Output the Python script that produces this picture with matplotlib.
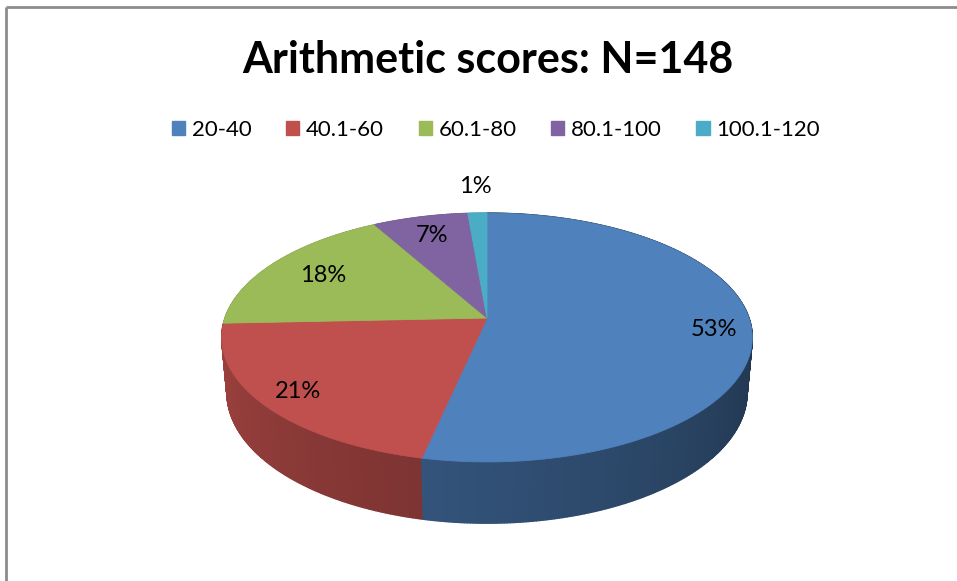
import numpy as np
import matplotlib
matplotlib.use('Agg')
import matplotlib.pyplot as plt
from matplotlib.patches import Polygon, Patch
from matplotlib.colors import to_rgb

plt.rcParams['font.family'] = ['Lato', 'DejaVu Sans']

title = 'Arithmetic scores: N=148'
bands = ['20-40', '40.1-60', '60.1-80', '80.1-100', '100.1-120']
counts = [79, 31, 26, 10, 2]
colors = ['#4F81BD', '#C0504D', '#9BBB59', '#8064A2', '#4BACC6']

W, H = 957, 581
# view: pixel scale, tilt, camera distance, apex on screen, slab thickness
K = 262.0
elev = np.radians(27.6)
D = 5.66
cx, cy = 487.0, 318.0
depth = 0.24
label_r = [0.86, 0.86, 0.76, 0.8, 1.3]   # how far out each % label sits


def proj(x, y, z):
    # x right, y away from viewer, z up -> screen pixels (+ depth toward camera)
    s, c = np.sin(elev), np.cos(elev)
    v = y * s + z * c
    w = -y * c + z * s
    f = D / (D - w)
    return cx + K * x * f, cy - K * v * f, w


fig = plt.figure(figsize=(W / 100, H / 100), dpi=100)
ax = fig.add_axes([0, 0, 1, 1])
ax.set_xlim(0, W)
ax.set_ylim(H, 0)
ax.axis('off')

frac = np.array(counts, dtype=float) / sum(counts)
edges = np.concatenate([[0], np.cumsum(frac)]) * 2 * np.pi   # clockwise from the back

# side wall, drawn back to front
quads = []
for i, col in enumerate(colors):
    n = max(int(2 * np.degrees(edges[i + 1] - edges[i])), 2)
    t = np.linspace(edges[i], edges[i + 1], n + 1)
    for a, b in zip(t[:-1], t[1:]):
        xs = np.array([np.sin(a), np.sin(b), np.sin(b), np.sin(a)])
        ys = np.array([np.cos(a), np.cos(b), np.cos(b), np.cos(a)])
        zs = np.array([0, 0, -depth, -depth])
        X, Y, Wd = proj(xs, ys, zs)
        m = np.degrees((a + b) / 2)
        shade = 0.40 + 0.44 * np.clip((m - 90) / 180, 0, 1)
        quads.append((Wd.mean(), np.column_stack([X, Y]), np.array(to_rgb(col)) * shade))

for _, pts, fc in sorted(quads, key=lambda q: q[0]):
    ax.add_patch(Polygon(pts, closed=True, fc=fc, ec=fc, lw=1.0))

# top face
for i, col in enumerate(colors):
    t = np.linspace(edges[i], edges[i + 1], 120)
    X, Y, _ = proj(np.r_[0, np.sin(t)], np.r_[0, np.cos(t)], np.zeros(len(t) + 1))
    ax.add_patch(Polygon(np.column_stack([X, Y]), closed=True, fc=col, ec=col, lw=0.6))

# percentage labels
for i in range(len(counts)):
    mid = (edges[i] + edges[i + 1]) / 2
    r = label_r[i]
    X, Y, _ = proj(r * np.sin(mid), r * np.cos(mid), 0.0)
    ax.text(X, Y, '%d%%' % round(frac[i] * 100), ha='center', va='center',
            fontsize=17, color='black')

fig.text(488 / W, 1 - 60 / H, title, ha='center', va='center',
         fontsize=31, fontweight='bold')

handles = [Patch(fc=c, ec=c) for c in colors]
fig.legend(handles, bands, loc='center', bbox_to_anchor=(496 / W, 1 - 130 / H),
           ncol=5, frameon=False, fontsize=16, handlelength=0.6, handleheight=0.6,
           handletextpad=0.3, columnspacing=1.55)

# chart frame (only left and top edges are in view)
ax.plot([6, 6], [7, H], color='#8c8c8c', lw=2, solid_capstyle='butt')
ax.plot([6, W], [7, 7], color='#8c8c8c', lw=2, solid_capstyle='butt')

fig.savefig('out.png', dpi=100)
